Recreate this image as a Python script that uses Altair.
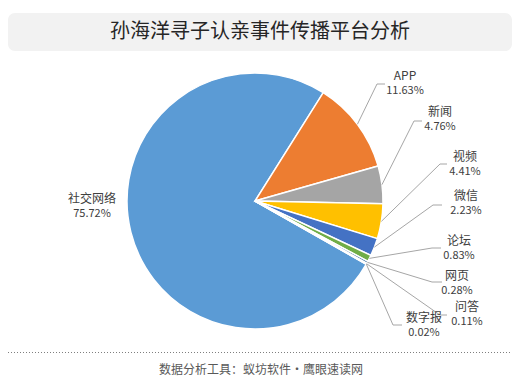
import math
import altair as alt
import pandas as pd

# ---------------- data ----------------
categories = ["社交网络", "APP", "新闻", "视频", "微信", "论坛", "网页", "问答", "数字报"]
shares = [75.72, 11.63, 4.76, 4.41, 2.23, 0.83, 0.28, 0.11, 0.02]
pct_labels = ["75.72%", "11.63%", "4.76%", "4.41%", "2.23%", "0.83%", "0.28%", "0.11%", "0.02%"]
colors = ["#5B9BD5", "#ED7D31", "#A5A5A5", "#FFC000", "#4472C4", "#70AD47",
          "#255E91", "#9E480E", "#636363"]
title_text = "孙海洋寻子认亲事件传播平台分析"
footer_text = "数据分析工具：蚁坊软件·鹰眼速读网"

# ---------------- layout (pixels in chart space) ----------------
W, H = 505, 372
OFF = 8
CX, CY, R = 255 - OFF, 201 - OFF, 128
START_DEG = 119.6
# label centres (name line) for each category
label_pos = [(92, 199), (405, 76), (440, 112), (465, 157), (466, 196),
             (459, 241), (457, 276), (467, 307), (424, 318)]
# leader elbows / ends (None = no leader)
leader_pts = [None,
              [(377, 84), (385, 84)],
              [(414, 121), (422, 121)],
              [(440, 164), (447, 164)],
              [(433, 205), (442, 205)],
              [(432, 248), (441, 248)],
              [(432, 282), (442, 282)],
              [(440, 315), (447, 315)],
              [(393, 325), (402, 325)]]

total = sum(shares)
df = pd.DataFrame({"cat": categories, "val": shares, "ord": list(range(len(categories)))})

a0 = math.radians(START_DEG)
pie = alt.Chart(df).mark_arc(outerRadius=R, stroke="white", strokeWidth=1.5).encode(
    theta=alt.Theta("val:Q", stack=True,
                    scale=alt.Scale(range=[a0, a0 + 2 * math.pi])),
    order=alt.Order("ord:Q"),
    color=alt.Color("cat:N", scale=alt.Scale(domain=categories, range=colors), legend=None),
    x=alt.value(CX), y=alt.value(CY),
)

# leader lines: start at slice mid-angle on the rim
rows = []
cum = 0.0
for i, (c, v) in enumerate(zip(categories, shares)):
    mid = START_DEG + 360.0 * (cum + v / 2) / total
    cum += v
    if leader_pts[i] is None:
        continue
    m = math.radians(mid)
    rows.append({"cat": c, "seq": 0, "px": CX + R * math.sin(m), "py": CY - R * math.cos(m)})
    for k, (x, y) in enumerate(leader_pts[i]):
        rows.append({"cat": c, "seq": k + 1, "px": x - OFF, "py": y - OFF})
ldf = pd.DataFrame(rows)

xs = alt.Scale(domain=[0, W], range=[0, W])
ys = alt.Scale(domain=[0, H], range=[0, H])

leaders = alt.Chart(ldf).mark_line(color="#A6A6A6", strokeWidth=1).encode(
    x=alt.X("px:Q", scale=xs, axis=None),
    y=alt.Y("py:Q", scale=ys, axis=None),
    detail="cat:N",
    order="seq:Q",
)

tdf = pd.DataFrame({
    "cat": categories,
    "pct": pct_labels,
    "lx": [p[0] - OFF for p in label_pos],
    "ly": [p[1] - OFF for p in label_pos],
})
tdf["ly2"] = tdf["ly"] + 14.5

names = alt.Chart(tdf).mark_text(font="Noto Sans CJK SC", fontSize=12, color="#404040",
                                 baseline="middle", align="center").encode(
    x=alt.X("lx:Q", scale=xs, axis=None), y=alt.Y("ly:Q", scale=ys, axis=None), text="cat:N")
pcts = alt.Chart(tdf).mark_text(font="Noto Sans CJK SC", fontSize=11, color="#404040",
                                baseline="middle", align="center").encode(
    x=alt.X("lx:Q", scale=xs, axis=None), y=alt.Y("ly2:Q", scale=ys, axis=None), text="pct:N")

one = pd.DataFrame({"t": [title_text], "f": [footer_text]})
title_box = alt.Chart(one).mark_rect(color="#F2F2F2", cornerRadius=7).encode(
    x=alt.value(8 - OFF), x2=alt.value(512 - OFF), y=alt.value(13 - OFF), y2=alt.value(51 - OFF))
title = alt.Chart(one).mark_text(font="Noto Sans CJK SC", fontSize=20, color="#262626",
                                 align="center", baseline="middle").encode(
    x=alt.value(260 - OFF), y=alt.value(32 - OFF), text="t:N")
dots = alt.Chart(one).mark_rule(color="#7F7F7F", strokeDash=[1, 2], strokeWidth=1).encode(
    x=alt.value(8 - OFF), x2=alt.value(512 - OFF), y=alt.value(352.5 - OFF))
footer = alt.Chart(one).mark_text(font="Noto Sans CJK SC", fontSize=12, color="#595959",
                                  align="center", baseline="middle").encode(
    x=alt.value(261 - OFF), y=alt.value(370 - OFF), text="f:N")

chart = alt.layer(title_box, title, pie, leaders, names, pcts, dots, footer).properties(
    width=W, height=H, padding=0, autosize=alt.AutoSizeParams(type="none"),
    background="white",
).configure_view(stroke=None)

chart.save("out.html", embed_options={"renderer": "svg", "actions": False})
